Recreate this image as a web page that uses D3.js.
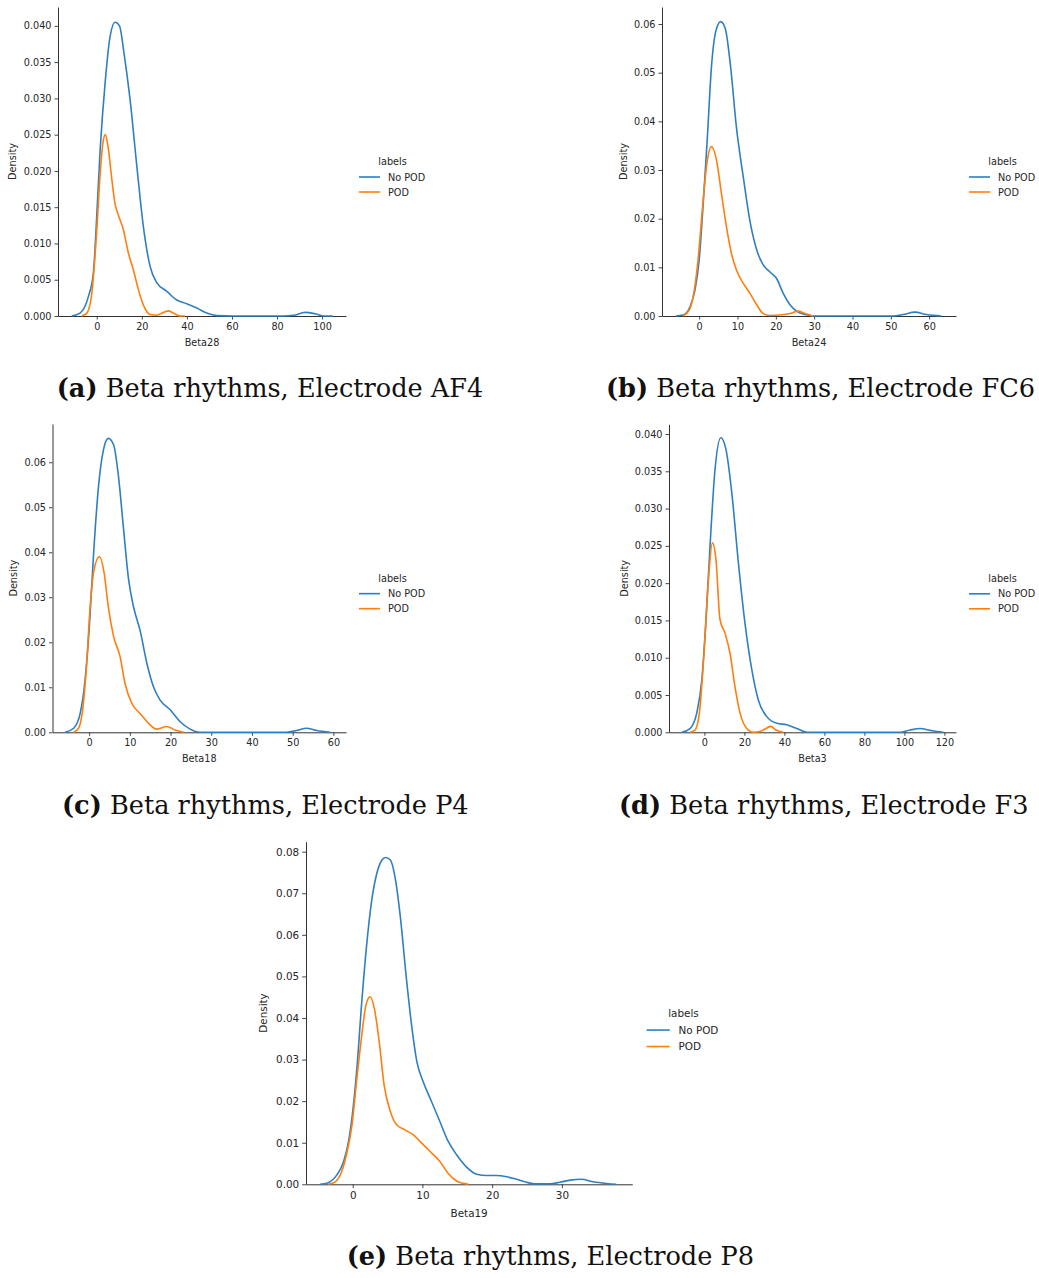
<!DOCTYPE html>
<html>
<head>
<meta charset="utf-8">
<script src="https://cdn.jsdelivr.net/npm/d3@7"></script>
<style>
body { margin: 0; background: #fff; }
svg { display: block; }
text { font-family: "DejaVu Sans", sans-serif; fill: #262626; }
.caption { font-family: "DejaVu Serif", serif; fill: #111; }
</style>
</head>
<body>
<script>
const width = 1039, height = 1278

const seriesNames = ["No POD", "POD"]
const legendTitle = "labels"
const featureNames = ["Beta28", "Beta24", "Beta18", "Beta3", "Beta19"]
const captionTags = ["(a)", "(b)", "(c)", "(d)", "(e)"]
const electrodes = ["AF4", "FC6", "P4", "F3", "P8"]

// tick values, one pair per panel
const xTicksA = [0, 20, 40, 60, 80, 100]
const yTicksA = [0, 0.005, 0.010, 0.015, 0.020, 0.025, 0.030, 0.035, 0.040]
const xTicksB = [0, 10, 20, 30, 40, 50, 60]
const yTicksB = [0, 0.01, 0.02, 0.03, 0.04, 0.05, 0.06]
const xTicksC = [0, 10, 20, 30, 40, 50, 60]
const yTicksC = [0, 0.01, 0.02, 0.03, 0.04, 0.05, 0.06]
const xTicksD = [0, 20, 40, 60, 80, 100, 120]
const yTicksD = [0, 0.005, 0.010, 0.015, 0.020, 0.025, 0.030, 0.035, 0.040]
const xTicksE = [0, 10, 20, 30]
const yTicksE = [0, 0.01, 0.02, 0.03, 0.04, 0.05, 0.06, 0.07, 0.08]

// density curves: [value, density]
const af4NoPod = [[-11.1,0],[-7.4,0.0004],[-3.7,0.0027],[-1.5,0.0059],[-0.4,0.0114],[1.5,0.0229],[3.7,0.0321],[5.9,0.0385],[8.1,0.0405],[10.1,0.0400],[12.1,0.0362],[14.8,0.0298],[17.8,0.0206],[20.7,0.0123],[23.7,0.0068],[26.6,0.0046],[31.1,0.0034],[35.5,0.0022],[39.9,0.0017],[44.4,0.0011],[48.8,0.0004],[53.3,0.00005],[60.7,0],[82.8,0],[87.3,0.0001],[92.5,0.0005],[96.9,0.0003],[100.6,0],[104.7,0]]
const af4Pod = [[-6.7,0],[-4.4,0.0004],[-2.2,0.0031],[0,0.0118],[1.5,0.0196],[2.8,0.0240],[3.8,0.0250],[5.2,0.0229],[6.7,0.0188],[8.1,0.0155],[9.6,0.0139],[11.8,0.0119],[14.1,0.0086],[16.3,0.0063],[18.5,0.0036],[20.7,0.0015],[23.7,0.0002],[26.6,0.0001],[29.6,0.0005],[31.8,0.0007],[34.0,0.0004],[37,0],[39.2,0]]

const fc6NoPod = [[-6.1,0],[-4.2,0.0002],[-2.4,0.0019],[-1.1,0.0053],[0,0.0115],[1.0,0.0225],[2.1,0.0362],[3.2,0.0512],[4.3,0.0584],[5.6,0.0605],[6.8,0.0591],[8.2,0.0512],[9.7,0.0389],[11.5,0.0286],[13.2,0.0197],[15.0,0.0136],[16.7,0.0105],[18.4,0.0091],[20.2,0.0077],[21.9,0.0047],[23.7,0.0023],[25.4,0.0010],[27.6,0.0003],[29.7,0],[50.6,0],[53.2,0.0003],[56.3,0.0008],[59.3,0.0003],[63.2,0]]
const fc6Pod = [[-4.2,0],[-2.6,0.0012],[-1.4,0.0047],[-0.3,0.0115],[0.9,0.0225],[1.9,0.0307],[3.2,0.0348],[4.5,0.0321],[5.8,0.0252],[7.1,0.0184],[8.4,0.0129],[9.7,0.0095],[11.5,0.0067],[13.2,0.0047],[15.0,0.0023],[16.7,0.0005],[18.4,0.0001],[21.0,0.0002],[23.7,0.0005],[25.8,0.0010],[27.6,0.0005],[29.7,0]]

const p4NoPod = [[-5.9,0],[-3.8,0.0009],[-2.2,0.0042],[-1.0,0.0116],[0.1,0.0242],[1.1,0.0398],[2.3,0.0546],[3.5,0.0627],[4.7,0.0653],[6.0,0.0639],[7.2,0.0569],[8.4,0.0457],[9.7,0.0339],[10.9,0.0279],[12.5,0.0227],[14.2,0.0153],[15.8,0.0101],[17.4,0.0072],[19.9,0.0050],[22.3,0.0024],[24.8,0.0007],[27.2,0],[48.5,0],[51.0,0.0004],[53.4,0.0009],[55.9,0.0004],[59.2,0]]
const p4Pod = [[-3.8,0],[-2.6,0.0009],[-1.6,0.0050],[-0.6,0.0153],[0.2,0.0272],[1.2,0.0361],[2.5,0.0390],[3.7,0.0353],[4.7,0.0279],[6.0,0.0213],[7.6,0.0168],[8.8,0.0109],[10.5,0.0064],[12.5,0.0042],[14.6,0.0020],[16.6,0.0007],[19.1,0.0013],[21.1,0.0005],[23.2,0]]

const f3NoPod = [[-11.3,0],[-7.2,0.0005],[-3.8,0.0026],[-1.3,0.0070],[0.8,0.0151],[2.8,0.0249],[5.3,0.0352],[8.2,0.0395],[10.8,0.0379],[13.7,0.0321],[17.0,0.0227],[20.3,0.0146],[23.7,0.0084],[27.0,0.0043],[31.2,0.0021],[36.2,0.0012],[41.2,0.0010],[46.2,0.0005],[51.2,0],[97.8,0],[102.8,0.0003],[107.8,0.0005],[113.7,0.0002],[119.5,0]]
const f3Pod = [[-7.2,0],[-4.7,0.0003],[-2.5,0.0026],[-0.2,0.0106],[2.0,0.0204],[4.0,0.0254],[5.8,0.0231],[7.8,0.0151],[10.3,0.0133],[12.8,0.0106],[15.3,0.0061],[17.8,0.0026],[21.2,0.0005],[24.5,0],[27.8,0.0001],[30.7,0.0005],[33.2,0.0008],[35.8,0.0003],[39.5,0]]

const p8NoPod = [[-4.7,0],[-3.5,0.0004],[-2.3,0.0022],[-1.3,0.0055],[-0.6,0.0103],[0,0.0175],[0.6,0.0279],[1.3,0.0439],[2.0,0.0576],[2.7,0.0680],[3.4,0.0744],[4.2,0.0780],[4.7,0.0786],[5.4,0.0780],[6.1,0.0736],[6.8,0.0648],[7.7,0.0495],[8.5,0.0375],[9.2,0.0295],[10.1,0.0247],[11.3,0.0199],[12.5,0.0151],[13.7,0.0103],[14.9,0.0071],[16.3,0.0042],[17.8,0.0024],[19.2,0.0021],[20.6,0.0021],[22.1,0.0018],[23.5,0.0012],[24.9,0.0005],[26.4,0.0001],[28.3,0.0001],[29.7,0.0005],[31.2,0.0010],[32.8,0.0012],[34.5,0.0006],[36.4,0.0002],[37.8,0]]
const p8Pod = [[-3.5,0],[-2.5,0.0006],[-1.6,0.0030],[-0.9,0.0071],[-0.1,0.0143],[0.6,0.0255],[1.3,0.0359],[1.9,0.0431],[2.5,0.0451],[3.1,0.0423],[3.8,0.0343],[4.5,0.0239],[5.4,0.0175],[6.3,0.0143],[7.5,0.0131],[8.7,0.0119],[9.9,0.0099],[11.1,0.0079],[12.5,0.0055],[13.7,0.0026],[14.9,0.0008],[16.6,0]]

const colors = ["#2f7fc0", "#ff7f0e"]

// panel frames in page pixels
const panels = [
	{ box: [58, 346, 7, 316], xDomain: [-17.2, 110.6], yMax: 0.0426, xTicks: xTicksA, yTicks: yTicksA, fmt: ".3f", series: [af4NoPod, af4Pod], labelOff: 45, fs: 9.7, s: 1, cap: [56.7, 396.7] },
	{ box: [662, 956, 7, 316], xDomain: [-9.7, 67.0], yMax: 0.0635, xTicks: xTicksB, yTicks: yTicksB, fmt: ".2f", series: [fc6NoPod, fc6Pod], labelOff: 38, fs: 9.7, s: 1, cap: [606, 396.7] },
	{ box: [52.5, 346, 424, 732.3], xDomain: [-9.0, 63.1], yMax: 0.0685, xTicks: xTicksC, yTicks: yTicksC, fmt: ".2f", series: [p4NoPod, p4Pod], labelOff: 38.5, fs: 9.7, s: 1, cap: [62, 814] },
	{ box: [669, 956, 424.3, 732.3], xDomain: [-17.7, 125.8], yMax: 0.0413, xTicks: xTicksD, yTicks: yTicksD, fmt: ".3f", series: [f3NoPod, f3Pod], labelOff: 44.7, fs: 9.7, s: 1, cap: [619, 814] },
	{ box: [306, 632.3, 841.7, 1184.3], xDomain: [-6.7, 40.1], yMax: 0.0824, xTicks: xTicksE, yTicks: yTicksE, fmt: ".2f", series: [p8NoPod, p8Pod], labelOff: 42.7, fs: 10.4, s: 1.1, cap: [346.7, 1265] }
]

const svg = d3.select("body").append("svg")
	.attr("width", width)
	.attr("height", height)

panels.forEach((p, i) => {
	const [left, right, top, bottom] = p.box
	const x = d3.scaleLinear().domain(p.xDomain).range([left, right])
	const y = d3.scaleLinear().domain([0, p.yMax]).range([bottom, top])

	const g = svg.append("g")

	// axes
	const gx = g.append("g")
		.attr("transform", `translate(0,${bottom})`)
		.call(d3.axisBottom(x).tickValues(p.xTicks).tickSize(3.5 * p.s).tickPadding(3.5).tickSizeOuter(0).tickFormat(d3.format("d")))
	const gy = g.append("g")
		.attr("transform", `translate(${left},0)`)
		.call(d3.axisLeft(y).tickValues(p.yTicks).tickSize(3.5 * p.s).tickPadding(3).tickSizeOuter(0).tickFormat(d3.format(p.fmt)))

	;[gx, gy].forEach(ax => {
		ax.selectAll("path.domain").attr("stroke", "#333").attr("stroke-width", 1)
		ax.selectAll(".tick line").attr("stroke", "#333").attr("stroke-width", 0.9)
		ax.selectAll(".tick text")
			.attr("fill", "#262626")
			.style("font-family", '"DejaVu Sans", sans-serif')
			.style("font-size", p.fs + "px")
	})

	// axis titles
	g.append("text")
		.attr("transform", `translate(${left - p.labelOff},${(top + bottom) / 2}) rotate(-90)`)
		.attr("text-anchor", "middle")
		.attr("dy", "0.35em")
		.style("font-size", p.fs + "px")
		.text("Density")

	g.append("text")
		.attr("x", (left + right) / 2)
		.attr("y", bottom + 29.5 * p.s)
		.attr("text-anchor", "middle")
		.style("font-size", p.fs + "px")
		.text(featureNames[i])

	// density curves
	const line = d3.line()
		.x(d => x(d[0]))
		.y(d => y(d[1]))
		.curve(d3.curveMonotoneX)

	p.series.forEach((data, k) => {
		g.append("path")
			.datum(data)
			.attr("fill", "none")
			.attr("stroke", colors[k])
			.attr("stroke-width", 1.6)
			.attr("stroke-linejoin", "round")
			.attr("d", line)
	})

	// legend, centred on the axes height
	const mid = (top + bottom) / 2
	const leg = g.append("g").attr("transform", `translate(${right + 13 * p.s},${mid})`)
	leg.append("text")
		.attr("x", 33.5 * p.s)
		.attr("y", 3.5 * p.s)
		.attr("text-anchor", "middle")
		.style("font-size", p.fs + "px")
		.text(legendTitle)
	seriesNames.forEach((name, k) => {
		const ly = (15.5 + 15 * k) * p.s
		leg.append("line")
			.attr("x1", 0).attr("x2", 21 * p.s)
			.attr("y1", ly).attr("y2", ly)
			.attr("stroke", colors[k])
			.attr("stroke-width", 1.6)
		leg.append("text")
			.attr("x", 29 * p.s)
			.attr("y", ly + 3.5 * p.s)
			.style("font-size", p.fs + "px")
			.text(name)
	})

	// sub-figure caption
	const cap = svg.append("text")
		.attr("class", "caption")
		.attr("x", p.cap[0])
		.attr("y", p.cap[1])
		.style("font-size", "25.6px")
	cap.append("tspan").attr("font-weight", "bold").text(captionTags[i])
	cap.append("tspan").text(` Beta rhythms, Electrode ${electrodes[i]}`)
})
</script>
</body>
</html>
